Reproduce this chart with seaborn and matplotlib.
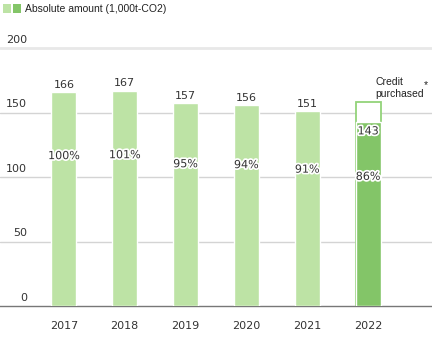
import matplotlib
matplotlib.use("Agg")
import matplotlib.pyplot as plt
import matplotlib.patheffects as pe
from matplotlib.patches import Rectangle
import seaborn as sns
import pandas as pd

years = ["2017", "2018", "2019", "2020", "2021", "2022"]
amounts = [166, 167, 157, 156, 151, 143]
percents = ["100%", "101%", "95%", "94%", "91%", "86%"]
credit_total_2022 = 158
yticks = [0, 50, 100, 150, 200]
legend_label = "Absolute amount (1,000t-CO2)"
credit_label = "Credit\npurchased"

light = "#bde3a5"
dark = "#83c568"
edge = "#93d37a"

sns.set_theme(style="white")
plt.rcParams["font.family"] = ["DejaVu Sans"]

W, H = 432, 342
fig = plt.figure(figsize=(W / 100, H / 100), dpi=100)
ax = fig.add_axes([0, 36 / H, 1, 264 / H])

df = pd.DataFrame({"year": years, "amount": amounts})
colors = [light] * 5 + [dark]

# credit outline for 2022
sns.barplot(x=[years[-1]], y=[credit_total_2022], order=years, color="white",
            edgecolor=edge, linewidth=1.3, width=0.41, saturation=1, ax=ax, zorder=2)
sns.barplot(data=df, x="year", y="amount", hue="year", order=years, palette=colors,
            legend=False, width=0.41, saturation=1, ax=ax, zorder=3)

ax.set_xlim(-1.05, 6.05)
ax.set_ylim(0, 200 * 264 / 258)

for v in yticks[1:]:
    ax.axhline(v, color="#d4d4d4" if v < 200 else "#e8e8e8",
               lw=1.0 if v < 200 else 2.0, zorder=1)

ytr = ax.get_yaxis_transform()
for v in yticks:
    ax.annotate(str(v), xy=(27 / W, v), xycoords=ytr, xytext=(0, 2.5),
                textcoords="offset points", ha="right", va="bottom",
                fontsize=8, color="#333333")

stroke = [pe.withStroke(linewidth=2.5, foreground="white")]
for i, (v, p) in enumerate(zip(amounts, percents)):
    if i < len(years) - 1:
        ax.annotate(str(v), xy=(i, v), xytext=(0, 1.5), textcoords="offset points",
                    ha="center", va="bottom", fontsize=8, color="#333333")
    else:
        ax.annotate(str(v), xy=(i, v), xytext=(0, -3.5), textcoords="offset points",
                    ha="center", va="top", fontsize=8, color="#333333",
                    path_effects=stroke, zorder=5)
    ax.annotate(p, xy=(i, v * 0.7), ha="center", va="center", fontsize=8,
                color="#333333", path_effects=stroke, zorder=5)

ax.annotate(credit_label, xy=(5, credit_total_2022), xytext=(5, 2),
            textcoords="offset points", ha="left", va="bottom", fontsize=7.5,
            color="#222222", linespacing=1.25,
            family=["Liberation Sans Narrow", "Liberation Sans", "DejaVu Sans"])
ax.annotate("*", xy=(5, credit_total_2022), xytext=(40, 9),
            textcoords="offset points", ha="left", va="bottom", fontsize=7.5,
            color="#222222", family=["Liberation Sans", "DejaVu Sans"])

ax.set_xlabel("")
ax.set_ylabel("")
ax.set_yticks([])
ax.tick_params(axis="x", length=0, pad=11, labelsize=8, labelcolor="#333333")
for s in ["top", "left", "right"]:
    ax.spines[s].set_visible(False)
ax.spines["bottom"].set_color("#777777")
ax.spines["bottom"].set_linewidth(1.0)

# legend
fig.patches.append(Rectangle((3 / W, 1 - 13 / H), 8 / W, 9 / H, transform=fig.transFigure,
                             facecolor=light, edgecolor="none"))
fig.patches.append(Rectangle((13 / W, 1 - 13 / H), 8 / W, 9 / H, transform=fig.transFigure,
                             facecolor=dark, edgecolor="none"))
fig.text(25 / W, 1 - 9 / H, legend_label, ha="left", va="center", fontsize=7.5,
         color="#222222", family=["Liberation Sans Narrow", "Liberation Sans", "DejaVu Sans"])

fig.savefig("out.png", dpi=100)
